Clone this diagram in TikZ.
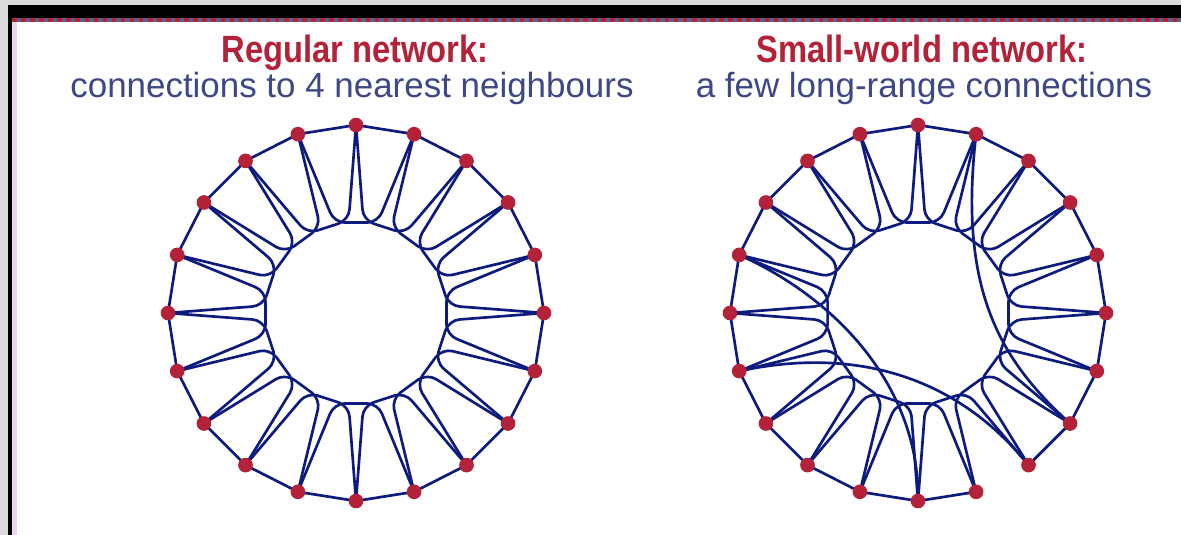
\documentclass[tikz,border=0pt]{standalone}
\usepackage{fontspec}
\setmainfont{Liberation Sans}
\usetikzlibrary{calc}
\definecolor{netblue}{HTML}{0D1A7E}
\definecolor{netred}{HTML}{B32238}
\definecolor{subcol}{HTML}{3E4886}
\definecolor{framegray}{HTML}{DCDCDC}
\definecolor{stripblue}{HTML}{56608C}
\definecolor{palecol}{HTML}{EAD6EA}
\pgfdeclarelayer{back}
\pgfdeclarelayer{bg}
\pgfsetlayers{back,bg,main}
\begin{document}
\begin{tikzpicture}[x=0.75pt,y=-0.75pt,
  edge/.style={draw=netblue,line width=2pt,line join=round},
  uedge/.style={edge,rounded corners=8pt},
  vertex/.style={circle,fill=netred,inner sep=0pt,minimum size=11pt},
  title/.style={text=netred,font=\bfseries\fontsize{28.5}{30}\selectfont,anchor=base,inner sep=0pt},
  subtitle/.style={text=subcol,font=\fontsize{26.2}{30}\selectfont,anchor=base,inner sep=0pt}]
\useasboundingbox (0,0) rectangle (1181,535);
% frame
\begin{pgfonlayer}{back}
\fill[framegray] (0,0) rectangle (1181,535);
\fill[white] (12,18) rectangle (1181,535);
\fill[black] (8,5) rectangle (1181,18);
\fill[black] (8,5) rectangle (12,535);
\fill[stripblue] (12,18) rectangle (1181,22);
\draw[netred,line width=3pt,dash pattern=on 3.4pt off 3.4pt] (12,20) -- (1181,20);
\fill[palecol] (12,22) rectangle (17,535);
\end{pgfonlayer}
% titles
\node[title] (t1) at (355,63) {\scalebox{0.86}[1]{Regular network:}};
\node[subtitle] (s1) at (352,98) {connections to 4 nearest neighbours};
\node[title] (t2) at (922,63) {\scalebox{0.86}[1]{Small-world network:}};
\node[subtitle] (s2) at (924,98) {a few long-range connections};
% centres
\coordinate (L) at (356,313);
\coordinate (R) at (918,313);
% vertices
\foreach \k in {0,...,19} {
  \node[vertex] (l\k) at ($(L)+({-90+18*\k}:188)$) {};
  \node[vertex] (r\k) at ($(R)+({-90+18*\k}:188)$) {};
}
\begin{pgfonlayer}{bg}
\foreach \k [evaluate=\k as \i using {int(mod(\k+1,20))},
             evaluate=\k as \j using {int(mod(\k+2,20))}] in {0,...,19} {
  % regular network
  \draw[edge] (l\k.center) -- (l\i.center);
  \draw[uedge] (l\k.center) -- ($(L)+({-85.5+18*\k}:93)$) -- ($(L)+({-94.5+18*(\k+2)}:93)$) -- (l\j.center);
  % small-world network
  \ifnum\k=8\else
    \draw[edge] (r\k.center) -- (r\i.center);
  \fi
  \draw[uedge] (r\k.center) -- ($(R)+({-85.5+18*\k}:93)$) -- ($(R)+({-94.5+18*(\k+2)}:93)$) -- (r\j.center);
}
% long-range connections
\draw[edge] (r14.center) .. controls (860,345) and (960,380) .. (r8.center);
\draw[edge] (r16.center) .. controls (840,300) and (920,390) .. (r10.center);
\draw[edge] (r1.center) .. controls (958,290) and (1000,360) .. (r7.center);
\end{pgfonlayer}
\end{tikzpicture}
\end{document}
